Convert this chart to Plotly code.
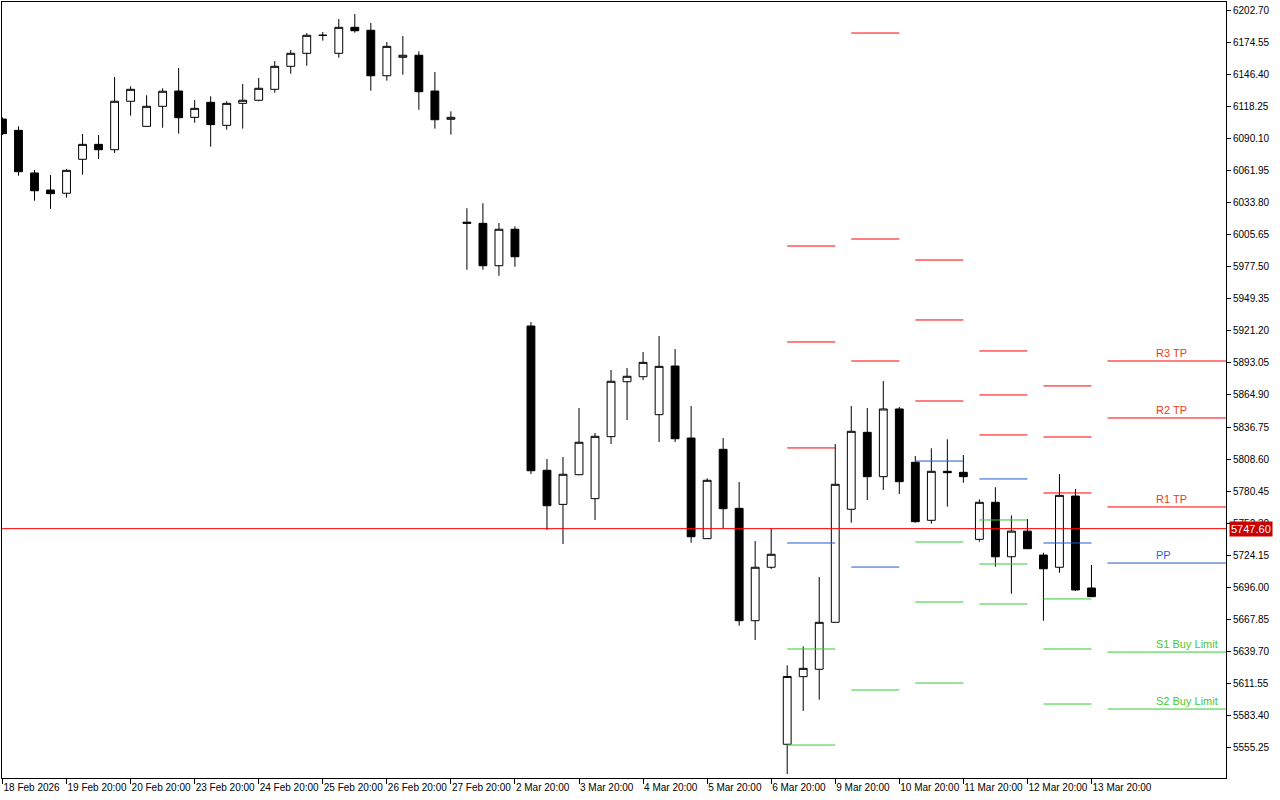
import plotly.graph_objects as go

# ---------------- data ----------------
tick_labels = ["18 Feb 2026", "19 Feb 20:00", "20 Feb 20:00", "23 Feb 20:00", "24 Feb 20:00",
               "25 Feb 20:00", "26 Feb 20:00", "27 Feb 20:00", "2 Mar 20:00", "3 Mar 20:00",
               "4 Mar 20:00", "5 Mar 20:00", "6 Mar 20:00", "9 Mar 20:00", "10 Mar 20:00",
               "11 Mar 20:00", "12 Mar 20:00", "13 Mar 20:00"]
bars_per_label = 4

opens = [6107.0, 6097.1, 6059.7, 6044.7, 6041.9, 6071.7, 6084.8, 6080.1, 6122.6, 6100.6,
         6118.2, 6131.6, 6108.5, 6121.7, 6101.5, 6120.8, 6123.5, 6133.1, 6153.3, 6164.7,
         6180.5, 6164.7, 6187.5, 6184.9, 6145.0, 6161.2, 6163.0, 6131.6, 6106.8, 6016.5,
         6015.5, 5978.3, 6010.3, 5925.4, 5798.8, 5768.9, 5794.9, 5773.9, 5828.3, 5876.5,
         5880.9, 5847.6, 5890.3, 5827.1, 5738.8, 5817.2, 5765.4, 5666.8, 5713.7, 5558.4,
         5617.7, 5624.2, 5665.4, 5764.6, 5832.1, 5793.2, 5852.6, 5805.8, 5754.9, 5797.9,
         5797.0, 5738.2, 5770.7, 5722.9, 5745.4, 5724.4, 5713.7, 5776.2, 5695.5]
highs = [6108.5, 6100.6, 6062.3, 6057.9, 6063.2, 6093.9, 6093.0, 6143.9, 6135.7, 6127.9,
         6134.0, 6151.8, 6123.7, 6127.0, 6122.6, 6137.8, 6143.0, 6157.9, 6167.6, 6182.5,
         6183.4, 6194.8, 6199.2, 6191.3, 6174.6, 6179.9, 6166.5, 6148.3, 6113.8, 6028.7,
         6033.1, 6015.8, 6012.9, 5928.9, 5808.7, 5810.5, 5853.4, 5831.5, 5886.8, 5888.5,
         5902.6, 5916.6, 5905.2, 5855.2, 5791.8, 5827.1, 5788.5, 5736.7, 5747.9, 5627.7,
         5644.3, 5705.2, 5821.9, 5855.2, 5853.4, 5877.1, 5854.3, 5811.3, 5818.1, 5826.0,
         5812.2, 5773.3, 5783.9, 5759.3, 5756.0, 5726.5, 5795.5, 5782.4, 5715.7]
lows = [6093.0, 6057.3, 6035.4, 6028.1, 6038.0, 6058.2, 6072.0, 6077.2, 6110.0, 6100.3,
        6099.4, 6094.2, 6103.8, 6082.7, 6097.7, 6098.6, 6122.6, 6130.1, 6146.8, 6153.8,
        6175.8, 6160.8, 6182.8, 6131.9, 6140.7, 6145.9, 6115.2, 6098.6, 6093.3, 5974.8,
        5974.8, 5969.5, 5977.4, 5795.5, 5746.4, 5734.1, 5794.5, 5755.2, 5821.9, 5842.9,
        5878.0, 5823.6, 5823.6, 5735.2, 5738.6, 5747.9, 5662.4, 5649.9, 5712.2, 5532.3,
        5587.6, 5597.5, 5665.0, 5752.8, 5772.7, 5781.5, 5778.0, 5752.8, 5751.9, 5766.9,
        5787.9, 5736.1, 5714.2, 5690.5, 5729.7, 5666.8, 5708.9, 5692.9, 5687.6]
closes = [6094.2, 6060.8, 6044.1, 6041.5, 6062.0, 6084.8, 6080.1, 6122.6, 6133.1, 6118.2,
          6131.4, 6108.2, 6116.4, 6102.1, 6120.8, 6123.5, 6134.0, 6153.3, 6164.7, 6180.5,
          6180.5, 6187.5, 6184.5, 6145.0, 6170.8, 6163.0, 6131.0, 6106.4, 6108.5, 6015.6,
          5978.3, 6010.3, 5986.2, 5798.4, 5767.7, 5795.3, 5823.4, 5828.6, 5876.9, 5881.3,
          5893.5, 5890.0, 5826.5, 5740.5, 5790.0, 5765.1, 5666.8, 5713.7, 5725.1, 5617.9,
          5625.0, 5665.4, 5786.5, 5833.0, 5793.2, 5852.6, 5788.8, 5753.7, 5797.9, 5796.7,
          5793.2, 5770.7, 5722.9, 5745.4, 5730.0, 5712.4, 5776.8, 5693.8, 5687.9]

# daily pivot levels (segments per session: first bar / last bar)
pivot_start = [49, 53, 57, 61, 65, 69]
pivot_end = [52, 56, 60, 64, 68, 80]
R3 = [5995.6, 6182.5, 5983.3, 5903.5, 5872.8, 5894.7]
R2 = [5911.4, 6001.75, 5930.7, 5864.9, 5828.0, 5844.7]
R1 = [5818.4, 5894.7, 5859.6, 5829.8, 5778.9, 5766.6]
PP = [5735.0, 5713.9, 5806.9, 5791.2, 5735.0, 5717.4]
S1 = [5642.0, 5606.0, 5735.9, 5755.2, 5685.9, 5639.3]
S2 = [5557.7, None, 5683.2, 5716.6, 5642.0, 5589.3]
S3 = [None, None, 5612.1, 5681.5, 5593.7, None]

level_labels = {"R3 TP": R3[-1], "R2 TP": R2[-1], "R1 TP": R1[-1], "PP": PP[-1],
                "S1 Buy Limit": S1[-1], "S2 Buy Limit": S2[-1]}
current_price = 5747.60

y_ticks = [6202.70 - 28.15 * i for i in range(24)]

# ---------------- figure ----------------
RED = "#FF0000"
BLUE = "#1E5AD2"
GREEN = "#32CD32"
FONT = "Liberation Sans, Arial, sans-serif"

fig = go.Figure()
idx = list(range(len(opens)))
fig.add_trace(go.Candlestick(
    x=idx, open=opens, high=highs, low=lows, close=closes,
    increasing=dict(line=dict(color="black", width=1), fillcolor="white"),
    decreasing=dict(line=dict(color="black", width=1), fillcolor="black"),
    whiskerwidth=0, hoverinfo="skip", showlegend=False,
))


def seg_trace(levels, color):
    xs, ys = [], []
    for s, e, v in zip(pivot_start, pivot_end, levels):
        if v is None:
            continue
        xs += [s, e, None]
        ys += [v, v, None]
    return go.Scatter(x=xs, y=ys, mode="lines", line=dict(color=color, width=1),
                      hoverinfo="skip", showlegend=False)


for lv in (R3, R2, R1):
    fig.add_trace(seg_trace(lv, RED))
fig.add_trace(seg_trace(PP, BLUE))
for lv in (S1, S2, S3):
    fig.add_trace(seg_trace(lv, GREEN))

# current price line
fig.add_shape(type="line", xref="paper", x0=0, x1=1, yref="y", y0=current_price, y1=current_price,
              line=dict(color=RED, width=1))

label_colors = {"R3 TP": "#F03A1A", "R2 TP": "#F03A1A", "R1 TP": "#F03A1A", "PP": "#2A62E0",
                "S1 Buy Limit": "#4CC82A", "S2 Buy Limit": "#4CC82A"}
for txt, val in level_labels.items():
    fig.add_annotation(x=71.9, y=val, xref="x", yref="y", text=txt, showarrow=False,
                       xanchor="left", yanchor="bottom", yshift=0,
                       font=dict(family=FONT, size=11, color=label_colors[txt]))

fig.add_annotation(x=1, y=current_price, xref="paper", yref="y", text="5747.60", showarrow=False,
                   xanchor="left", yanchor="middle", xshift=3, bgcolor="#C80000",
                   borderpad=1, font=dict(family=FONT, size=11, color="white"))

fig.update_layout(
    width=1280, height=800,
    margin=dict(l=2, r=54, t=2, b=22, autoexpand=False),
    paper_bgcolor="white", plot_bgcolor="white",
    font=dict(family=FONT, size=10, color="black"),
    showlegend=False,
    xaxis=dict(
        range=[-0.03, 76.4], rangeslider=dict(visible=False),
        tickmode="array", tickvals=[i * bars_per_label for i in range(len(tick_labels))],
        ticktext=tick_labels, ticks="outside", ticklen=5, tickcolor="black",
        ticklabelposition="outside right", tickangle=0, automargin=False,
        tickfont=dict(family=FONT, size=10),
        showline=True, linecolor="black", linewidth=1, mirror=True,
        showgrid=False, zeroline=False, fixedrange=True,
    ),
    yaxis=dict(
        range=[5528.78, 6209.72], side="right", automargin=False,
        tickmode="array", tickvals=y_ticks, ticktext=[f"{v:.2f}" for v in y_ticks],
        ticks="outside", ticklen=4, tickcolor="black",
        tickfont=dict(family=FONT, size=10),
        showline=True, linecolor="black", linewidth=1, mirror=True,
        showgrid=False, zeroline=False, fixedrange=True,
    ),
)

fig.write_html("out.html", config={"displayModeBar": False},
               post_script="document.body.style.margin='0';document.body.style.padding='0';")
